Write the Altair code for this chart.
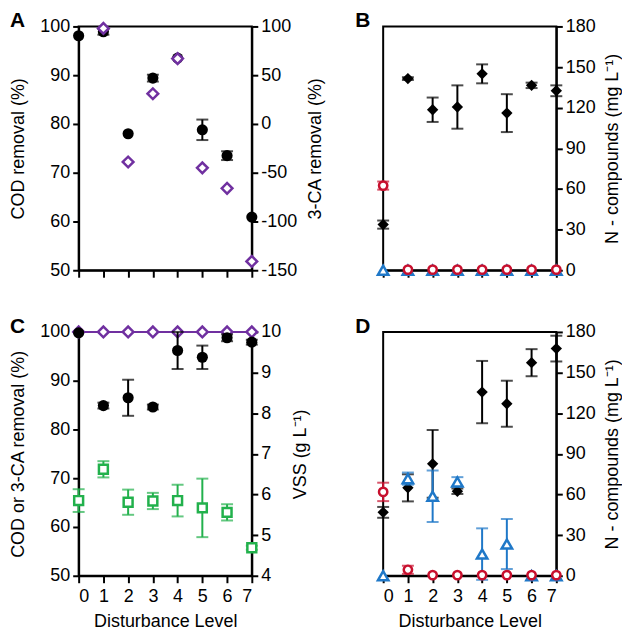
import altair as alt
import pandas as pd

FONT = "Liberation Sans"
levels = [0, 1, 2, 3, 4, 5, 6, 7]
panel_letters = ["A", "B", "C", "D"]

# Panel A
a_cod = [98.1, 98.9, 78.0, 89.4, 93.5, 78.8, 73.5, 60.9]
a_cod_err = [0.0, 0.6, 0.0, 0.7, 0.0, 2.1, 0.9, 0.0]
a_ca = [None, 98.0, -39.0, 31.0, 67.0, -45.0, -66.0, -141.0]

# Panel B
b_black = [33.7, 141.5, 118.5, 120.5, 145.0, 116.0, 136.5, 132.5]
b_black_err = [3.0, 1.0, 9.0, 16.0, 7.0, 14.0, 2.0, 4.0]
b_red = [62.5, 0.5, 0.5, 0.5, 0.5, 0.5, 0.5, 0.5]
b_red_err = [3.0, 0, 0, 0, 0, 0, 0, 0]
b_blue = [0, 0, 0, 0, 0, 0, 0, 0]

# Panel C
c_cod = [99.8, 84.9, 86.5, 84.6, 96.2, 94.8, 98.8, 97.9]
c_cod_err = [0.0, 0.6, 3.7, 0.5, 3.8, 2.4, 0.7, 0.5]
c_ca = [100, 100, 100, 100, 100, 100, 100, 100]
c_vss = [5.85, 6.62, 5.81, 5.84, 5.85, 5.67, 5.56, 4.69]
c_vss_err = [0.28, 0.2, 0.31, 0.2, 0.39, 0.72, 0.2, 0.05]

# Panel D
d_black = [46.8, 64.9, 82.6, 62.4, 135.6, 127.0, 157.3, 167.7]
d_black_err = [4.0, 10.0, 25.0, 2.0, 23.0, 17.0, 10.0, 9.5]
d_blue = [0, 71.7, 58.7, 69.3, 16.0, 23.4, 0, 0]
d_blue_err = [0, 4.5, 19.0, 3.5, 19.0, 18.5, 0, 0]
d_red = [61.9, 4.4, 0.5, 0.5, 0.5, 0.5, 0.5, 0.5]
d_red_err = [6.8, 3.0, 0, 0, 0, 0, 0, 0]

PURPLE = "#7030A0"
RED = "#C8102E"
BLUE = "#1F78C8"
GREEN = "#22B14C"

W, H = 174, 245
FS = 18


def frame(vals, errs=None):
    rows = []
    for i, v in enumerate(vals):
        if v is None:
            continue
        e = errs[i] if errs is not None else 0
        rows.append({"x": levels[i], "y": v, "lo": v - e, "hi": v + e, "err": e})
    return pd.DataFrame(rows)


def xenc(labels):
    return alt.X(
        "x:Q",
        scale=alt.Scale(domain=[0, 7], nice=False, zero=False),
        axis=alt.Axis(
            values=levels,
            labels=labels,
            title="Disturbance Level" if labels else None,
            tickSize=7,
            labelPadding=5,
            titlePadding=7,
        ),
    )


def series(vals, errs, yaxis, domain, shape, color, filled, size, labels):
    df = frame(vals, errs)
    ysc = alt.Scale(domain=domain, nice=False, zero=False)
    base = alt.Chart(df)
    layers = []
    if errs is not None:
        eb = base.transform_filter("datum.err > 0")
        layers.append(
            eb.mark_rule(color=color, strokeWidth=2).encode(
                x=xenc(labels), y=alt.Y("lo:Q", scale=ysc, axis=yaxis), y2="hi:Q"
            )
        )
        layers.append(
            eb.transform_fold(["lo", "hi"], as_=["k", "v"])
            .mark_tick(color=color, orient="horizontal", size=12, thickness=2)
            .encode(x=xenc(labels), y=alt.Y("v:Q", scale=ysc, axis=yaxis))
        )
    if filled:
        pm = base.mark_point(shape=shape, filled=True, color=color, size=size, opacity=1)
    else:
        pm = base.mark_point(
            shape=shape, filled=True, fill="white", stroke=color, strokeWidth=2.5,
            size=size, opacity=1,
        )
    layers.append(pm.encode(x=xenc(labels), y=alt.Y("y:Q", scale=ysc, axis=yaxis)))
    return layers


def left_axis(title):
    return alt.Axis(title=title, orient="left", values=[50, 60, 70, 80, 90, 100],
                    tickSize=6, labelPadding=3, titleX=-60, titleY=H / 2,
                    titleAngle=270, titleBaseline="middle", grid=False)


def right_axis(title, values, tx, minus=False):
    kw = {}
    if minus:
        kw["labelExpr"] = "'' + datum.value"
    return alt.Axis(title=title, orient="right", values=values, tickSize=6,
                    labelPadding=3, titleX=tx, titleY=H / 2, titleAngle=270,
                    titleBaseline="middle", grid=False, **kw)


def letter(t, dx):
    return (
        alt.Chart(pd.DataFrame({"t": [t]}))
        .mark_text(align="left", baseline="top", font="Arial", fontSize=21,
                   fontWeight="bold", color="black")
        .encode(text="t:N", x=alt.value(dx), y=alt.value(-16))
    )


# ---- Panel A
axA_l = left_axis("COD removal (%)")
axA_r = right_axis("3-CA removal (%)", [-150, -100, -50, 0, 50, 100], 64, minus=True)
A_left = alt.layer(*series(a_cod, a_cod_err, axA_l, [50, 100], "circle", "black", True, 125, False))
A_right = alt.layer(*series(a_ca, None, axA_r, [-150, 100], "diamond", PURPLE, False, 115, False))
A = alt.layer(A_left, A_right, letter(panel_letters[0], -69)).resolve_scale(
    y="independent").properties(width=W, height=H)

# ---- Panel B
axN = right_axis("N - compounds (mg L\u207b\u00b9)", [0, 30, 60, 90, 120, 150, 180], 56)
dN = [0, 180]
B = alt.layer(
    *series(b_black, b_black_err, axN, dN, "diamond", "black", True, 130, False),
    *series(b_blue, None, axN, dN, "triangle-up", BLUE, False, 110, False),
    *series(b_red, b_red_err, axN, dN, "circle", RED, False, 70, False),
    letter(panel_letters[1], -28),
).properties(width=W, height=H)

# ---- Panel C
axC_l = left_axis("COD or 3-CA removal (%)")
axC_r = right_axis("VSS (g L\u207b\u00b9)", [4, 5, 6, 7, 8, 9, 10], 49)
ca_line = alt.Chart(frame(c_ca)).mark_line(color=PURPLE, strokeWidth=2).encode(
    x=xenc(True), y=alt.Y("y:Q", scale=alt.Scale(domain=[50, 100], nice=False, zero=False), axis=axC_l))
C_left = alt.layer(
    ca_line,
    *series(c_ca, None, axC_l, [50, 100], "diamond", PURPLE, False, 115, True),
    *series(c_cod, c_cod_err, axC_l, [50, 100], "circle", "black", True, 125, True),
)
C_right = alt.layer(*series(c_vss, c_vss_err, axC_r, [4, 10], "square", GREEN, False, 80, True))
C = alt.layer(C_left, C_right, letter(panel_letters[2], -69)).resolve_scale(
    y="independent").properties(width=W, height=H)

# ---- Panel D
D = alt.layer(
    *series(d_black, d_black_err, axN, dN, "diamond", "black", True, 130, True),
    *series(d_blue, d_blue_err, axN, dN, "triangle-up", BLUE, False, 110, True),
    *series(d_red, d_red_err, axN, dN, "circle", RED, False, 70, True),
    letter(panel_letters[3], -28),
).properties(width=W, height=H)

chart = (
    alt.concat(A, B, C, D, columns=2, spacing={"row": 62, "column": 132}, bounds="flush")
    .properties(padding={"left": 0, "top": 0, "right": 0, "bottom": 0})
    .configure_view(stroke="black", strokeWidth=2)
    .configure_axis(
        domainColor="black", domainWidth=2, tickColor="black", tickWidth=2,
        labelFont=FONT, labelFontSize=FS, labelColor="black",
        titleFont=FONT, titleFontSize=FS, titleFontWeight="normal", titleColor="black",
        grid=False,
    )
)

chart.save("out.html", embed_options={"renderer": "svg", "actions": False})
